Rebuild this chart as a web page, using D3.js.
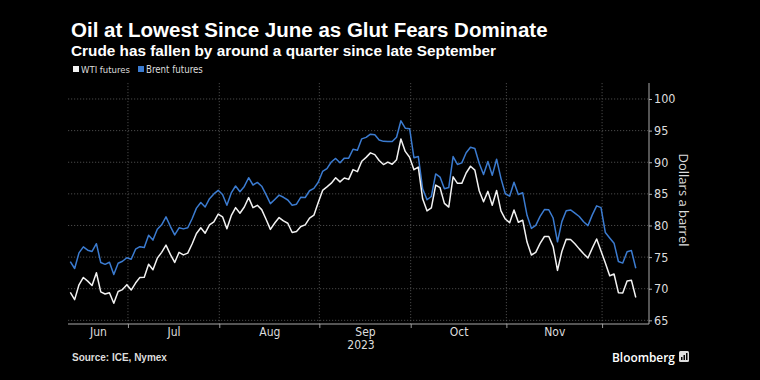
<!DOCTYPE html>
<html><head><meta charset="utf-8">
<script src="https://cdn.jsdelivr.net/npm/d3@7"></script>
<style>html,body{margin:0;padding:0;background:#000;} svg{display:block}</style>
</head><body><svg id="c" width="760" height="380"></svg>
<script>
// ---- data ----
const dates = [
"2023-06-13","2023-06-14","2023-06-15","2023-06-16","2023-06-19","2023-06-20","2023-06-21","2023-06-22","2023-06-23","2023-06-26","2023-06-27","2023-06-28","2023-06-29","2023-06-30",
"2023-07-03","2023-07-04","2023-07-05","2023-07-06","2023-07-07","2023-07-10","2023-07-11","2023-07-12","2023-07-13","2023-07-14","2023-07-17","2023-07-18","2023-07-19","2023-07-20","2023-07-21","2023-07-24","2023-07-25","2023-07-26","2023-07-27","2023-07-28","2023-07-31",
"2023-08-01","2023-08-02","2023-08-03","2023-08-04","2023-08-07","2023-08-08","2023-08-09","2023-08-10","2023-08-11","2023-08-14","2023-08-15","2023-08-16","2023-08-17","2023-08-18","2023-08-21","2023-08-22","2023-08-23","2023-08-24","2023-08-25","2023-08-28","2023-08-29","2023-08-30","2023-08-31",
"2023-09-01","2023-09-04","2023-09-05","2023-09-06","2023-09-07","2023-09-08","2023-09-11","2023-09-12","2023-09-13","2023-09-14","2023-09-15","2023-09-18","2023-09-19","2023-09-20","2023-09-21","2023-09-22","2023-09-25","2023-09-26","2023-09-27","2023-09-28","2023-09-29",
"2023-10-02","2023-10-03","2023-10-04","2023-10-05","2023-10-06","2023-10-09","2023-10-10","2023-10-11","2023-10-12","2023-10-13","2023-10-16","2023-10-17","2023-10-18","2023-10-19","2023-10-20","2023-10-23","2023-10-24","2023-10-25","2023-10-26","2023-10-27","2023-10-30","2023-10-31",
"2023-11-01","2023-11-02","2023-11-03","2023-11-06","2023-11-07","2023-11-08","2023-11-09","2023-11-10","2023-11-13","2023-11-14","2023-11-15","2023-11-16","2023-11-17","2023-11-20","2023-11-21","2023-11-22","2023-11-23","2023-11-24","2023-11-27","2023-11-28","2023-11-29","2023-11-30",
"2023-12-01","2023-12-04","2023-12-05","2023-12-06","2023-12-07","2023-12-08","2023-12-11","2023-12-12"
];
const wti = [
69.42,68.27,70.62,71.78,71.2,70.50,72.53,69.51,69.16,69.37,67.70,69.56,69.86,70.64,
69.79,70.9,71.79,71.80,73.86,72.99,74.83,75.75,76.89,75.42,74.15,75.75,75.35,75.63,77.07,78.74,79.63,78.78,80.09,80.58,81.80,
81.37,79.49,81.55,82.82,81.94,82.92,84.40,82.82,83.19,82.51,80.99,79.38,80.39,81.25,80.72,80.35,78.89,79.05,79.83,80.10,81.16,81.63,83.63,
85.55,86.1,86.69,87.54,86.9,87.51,87.29,88.84,88.52,90.16,90.77,91.48,91.20,90.28,89.63,90.03,89.68,90.39,93.68,91.71,90.79,
88.82,89.23,84.22,82.31,82.79,86.38,85.97,83.49,82.91,87.69,86.66,86.66,88.3,89.37,88.75,85.49,83.74,85.39,83.21,85.54,82.31,81.02,
80.44,82.46,80.51,80.82,77.37,75.33,75.74,77.17,78.26,78.26,76.66,72.90,75.89,77.83,77.77,77.10,76.3,75.54,74.86,76.41,77.86,75.96,
74.07,72.04,72.32,69.38,69.34,71.23,71.32,68.61
];
const brent = [
74.29,73.20,75.67,76.61,76.09,75.90,77.12,74.14,73.85,74.18,72.26,74.03,74.34,74.90,
74.65,76.25,76.65,76.52,78.47,77.69,79.40,80.11,81.36,79.87,78.50,79.63,79.46,79.64,81.07,82.74,83.64,82.92,84.24,84.99,85.56,
84.91,83.20,85.14,86.24,85.34,86.17,87.55,86.40,86.81,86.21,84.89,83.45,84.12,84.80,84.46,84.03,83.21,83.36,84.48,84.42,85.49,85.86,86.83,
88.55,89.00,90.04,90.60,89.92,90.65,90.64,92.06,91.88,93.70,93.93,94.43,94.34,93.53,93.30,93.27,93.29,93.96,96.55,95.38,95.31,
90.71,90.92,85.81,84.07,84.58,88.15,87.65,85.82,86.00,90.89,89.65,89.90,91.50,92.38,92.16,89.83,88.07,90.13,87.93,90.48,87.45,85.02,
84.63,86.85,84.89,85.18,81.61,79.54,80.01,81.43,82.52,82.47,81.18,77.42,80.61,82.32,82.45,81.96,81.42,80.58,79.98,81.68,83.10,82.83,
78.88,78.03,77.20,74.30,74.05,75.84,76.03,73.24
];
const yTicks = [65,70,75,80,85,90,95,100];
const monthLabels = ["Jun","Jul","Aug","Sep","Oct","Nov"];
const yearLabel = "2023";
const seriesNames = ["WTI futures","Brent futures"];
const seriesColors = ["#f2f2f2","#3b7bd0"];
const title = "Oil at Lowest Since June as Glut Fears Dominate";
const subtitle = "Crude has fallen by around a quarter since late September";
const yTitle = "Dollars a barrel";
const source = "Source: ICE, Nymex";

// ---- layout ----
const svg = d3.select("#c");
svg.append("rect").attr("width",760).attr("height",380).attr("fill","#000");
const L = 68, R = 649, T = 83, B = 324;
const x = d3.scaleLinear().domain([0, dates.length-1]).range([70.3, 635.8]);
const y = d3.scaleLinear().domain([64.42, 102.53]).range([B, T]);
const narrow = "'Liberation Sans Narrow','DejaVu Sans Condensed','Arial Narrow',sans-serif";
const headFont = "'Liberation Sans',Arial,sans-serif";

function fit(sel, w){
  const l = sel.node().getComputedTextLength();
  const fs = parseFloat(sel.attr("font-size"));
  sel.attr("font-size", (fs*w/l).toFixed(2));
}

// titles
const t1 = svg.append("text").attr("x",71).attr("y",37).attr("fill","#fff")
  .attr("font-family",headFont).attr("font-weight",700)
  .attr("font-size",20).text(title);
fit(t1, 477);
const t2 = svg.append("text").attr("x",71).attr("y",55.5).attr("fill","#fff")
  .attr("font-family",headFont).attr("font-weight",700)
  .attr("font-size",15).text(subtitle);
fit(t2, 425);

// legend
const lg = svg.append("g");
let lx = 73;
const legW = [49, 57];
seriesNames.forEach((n,i)=>{
  lg.append("rect").attr("x",lx).attr("y",66).attr("width",6).attr("height",6).attr("fill",seriesColors[i]);
  const tt = lg.append("text").attr("x",lx+8).attr("y",73).attr("fill","#ddd")
    .attr("font-family",narrow).attr("font-size",10.5).text(n);
  fit(tt, legW[i]);
  lx += 8 + legW[i] + 8;
});

// month boundaries from dates
const boundaries = [];
for(let i=0;i<dates.length-1;i++){
  if(dates[i].slice(5,7)!==dates[i+1].slice(5,7)) boundaries.push(i+0.25);
}

// grid
const grid = svg.append("g");
yTicks.forEach(v=>{
  grid.append("line").attr("x1",L).attr("x2",R).attr("y1",y(v)).attr("y2",y(v))
    .attr("stroke","#5a5a5a").attr("stroke-width",0.8).attr("stroke-dasharray","1.2,1.8");
});
boundaries.forEach(b=>{
  grid.append("line").attr("x1",x(b)).attr("x2",x(b)).attr("y1",T).attr("y2",B)
    .attr("stroke","#5a5a5a").attr("stroke-width",0.8).attr("stroke-dasharray","1.2,1.8");
});

// x axis: tick marks
const xAxisTicks = d3.axisBottom(x).tickValues(boundaries).tickSize(4).tickFormat("");
const gx = svg.append("g").attr("transform",`translate(0,${B})`).call(xAxisTicks);
gx.select(".domain").remove();
gx.selectAll(".tick line").attr("stroke","#999");
svg.append("line").attr("x1",L).attr("x2",R).attr("y1",B).attr("y2",B).attr("stroke","#aaa").attr("stroke-width",1);

// x labels at month midpoints
const edges = [x.invert(L)].concat(boundaries);
const mids = monthLabels.map((m,i)=>(edges[i]+edges[i+1])/2);
const xLab = d3.axisBottom(x).tickValues(mids).tickSize(0).tickPadding(3)
  .tickFormat((d,i)=>monthLabels[i]);
const gxl = svg.append("g").attr("transform",`translate(0,${B})`).call(xLab);
gxl.select(".domain").remove();
gxl.selectAll("text").attr("fill","#ddd").attr("font-family",narrow).attr("font-size",12);
svg.append("text").attr("x",x(mids[3])-4).attr("y",349).attr("text-anchor","middle")
  .attr("fill","#ddd").attr("font-family",narrow).attr("font-size",12).text(yearLabel);

// y axis right
const yAxis = d3.axisRight(y).tickValues(yTicks).tickSize(3).tickPadding(2);
const gy = svg.append("g").attr("transform",`translate(${R},0)`).call(yAxis);
gy.select(".domain").attr("stroke","#aaa").attr("d",`M0,${T}V${B}`);
gy.selectAll(".tick line").attr("stroke","#aaa");
gy.selectAll("text").attr("fill","#ddd").attr("font-family",narrow).attr("font-size",12.5);

svg.append("text").attr("transform",`translate(679,200) rotate(90)`).attr("text-anchor","middle")
  .attr("fill","#ddd").attr("font-family","'Open Sans','Noto Sans',sans-serif").attr("font-size",13).text(yTitle);

// lines
const line = d3.line().x((d,i)=>x(i)).y(d=>y(d));
svg.append("path").datum(brent).attr("d",line).attr("fill","none").attr("stroke",seriesColors[1]).attr("stroke-width",1.5).attr("stroke-linejoin","round");
svg.append("path").datum(wti).attr("d",line).attr("fill","none").attr("stroke",seriesColors[0]).attr("stroke-width",1.5).attr("stroke-linejoin","round");

// footer
const src = svg.append("text").attr("x",72).attr("y",361).attr("fill","#ddd")
  .attr("font-family",headFont).attr("font-weight",700).attr("font-size",9.5).text(source);
fit(src, 95);
const bb = svg.append("text").attr("x",612).attr("y",362).attr("fill","#fff")
  .attr("font-family","'Open Sans','Noto Sans',sans-serif").attr("font-weight",600).attr("font-size",13).text("Bloomberg");
fit(bb, 63);
svg.append("rect").attr("x",679).attr("y",351).attr("width",10).attr("height",11).attr("rx",1.5).attr("fill","#ddd");
[[681,357,1.5,3],[683.5,355,1.5,5],[686,353,1.5,7]].forEach(r=>{
  svg.append("rect").attr("x",r[0]).attr("y",r[1]).attr("width",r[2]).attr("height",r[3]).attr("fill","#000");
});
</script></body></html>
